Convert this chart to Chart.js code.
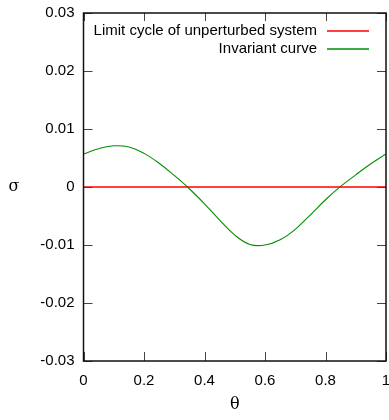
<!DOCTYPE html>
<html>
<head>
<meta charset="utf-8">
<script src="https://cdn.jsdelivr.net/npm/chart.js@4/dist/chart.umd.min.js"></script>
<style>
  html, body { margin: 0; padding: 0; background: #fff; }
  #wrap { width: 389px; height: 420px; }
</style>
</head>
<body>
<div id="wrap"><canvas id="chart" width="389" height="420"></canvas></div>
<script>
// data
const limitTheta = [0, 1];
const limitSigma = [0, 0];

const curveTheta = [0, 0.05, 0.1, 0.15, 0.2, 0.25, 0.3, 0.35, 0.4, 0.45, 0.5,
  0.55, 0.6, 0.65, 0.7, 0.75, 0.8, 0.85, 0.9, 0.95, 1];
const curveSigma = [0.0057, 0.0066, 0.0071, 0.0069, 0.0058, 0.0041, 0.0020, -0.0003,
  -0.0029, -0.0057, -0.0083, -0.0099, -0.0100, -0.0091, -0.0073, -0.0048,
  -0.0022, 0.0001, 0.0021, 0.0040, 0.0057];

const xTicks = [0, 0.2, 0.4, 0.6, 0.8, 1];
const yTicks = [-0.03, -0.02, -0.01, 0, 0.01, 0.02, 0.03];

const labels = ['Limit cycle of unperturbed system', 'Invariant curve'];
const colors = ['#ff0000', '#008f00'];
const xTitle = 'θ';
const yTitle = 'σ';

const FONT = 'Liberation Sans, Arial, sans-serif';

function toPoints(xs, ys) {
  return xs.map((x, i) => ({ x: x, y: ys[i] }));
}

// cadre + petites graduations vers l'intérieur (style gnuplot)
const framePlugin = {
  id: 'frame',
  afterDatasetsDraw(chart) {
    const { ctx, chartArea: a, scales } = chart;
    ctx.save();
    ctx.strokeStyle = '#444';
    ctx.lineWidth = 1;
    scales.x.ticks.forEach(t => {
      const px = Math.round(scales.x.getPixelForValue(t.value)) + 0.5;
      ctx.beginPath();
      ctx.moveTo(px, a.bottom); ctx.lineTo(px, a.bottom - 9);
      ctx.moveTo(px, a.top); ctx.lineTo(px, a.top + 8);
      ctx.stroke();
    });
    scales.y.ticks.forEach(t => {
      const py = Math.round(scales.y.getPixelForValue(t.value)) + 0.5;
      ctx.beginPath();
      ctx.moveTo(a.left, py); ctx.lineTo(a.left + 9, py);
      ctx.moveTo(a.right, py); ctx.lineTo(a.right - 9, py);
      ctx.stroke();
    });
    ctx.strokeStyle = '#111';
    ctx.lineWidth = 1.5;
    ctx.strokeRect(a.left, a.top, a.right - a.left, a.bottom - a.top);

    // légende : texte à droite, échantillon de ligne après
    ctx.font = '15px ' + FONT;
    ctx.textAlign = 'right';
    ctx.textBaseline = 'middle';
    labels.forEach((lab, i) => {
      const y = Math.round(a.top + 18 + i * 18);
      ctx.fillStyle = '#000';
      ctx.fillText(lab, a.right - 69, y);
      ctx.strokeStyle = colors[i];
      ctx.lineWidth = 1.5;
      ctx.beginPath();
      ctx.moveTo(a.right - 59, y);
      ctx.lineTo(a.right - 17, y);
      ctx.stroke();
    });

    // titres des axes
    ctx.fillStyle = '#000';
    ctx.font = '16px DejaVu Serif, serif';
    ctx.textAlign = 'center';
    ctx.fillText(xTitle, (a.left + a.right) / 2, 405);
    ctx.fillText(yTitle, 14, (a.top + a.bottom) / 2);
    ctx.restore();
  }
};

function initChart() {
  const ctx = document.getElementById('chart').getContext('2d');
  return new Chart(ctx, {
    type: 'line',
    data: {
      datasets: [
        {
          label: labels[0],
          data: toPoints(limitTheta, limitSigma),
          borderColor: colors[0],
          borderWidth: 1.6,
          pointRadius: 0,
          fill: false
        },
        {
          label: labels[1],
          data: toPoints(curveTheta, curveSigma),
          borderColor: colors[1],
          borderWidth: 1.1,
          pointRadius: 0,
          fill: false,
          tension: 0.4
        }
      ]
    },
    options: {
      responsive: false,
      animation: false,
      parsing: false,
      layout: { padding: { top: 13, right: 3, left: 0, bottom: 0 } },
      scales: {
        x: {
          type: 'linear',
          min: 0,
          max: 1,
          afterBuildTicks: s => { s.ticks = xTicks.map(v => ({ value: v })); },
          afterFit: s => { s.height = 59; s.paddingLeft = 0; s.paddingRight = 0; },
          grid: { display: false, drawTicks: false },
          border: { display: false },
          ticks: {
            padding: 11,
            maxRotation: 0,
            color: '#000',
            font: { family: FONT, size: 15 },
            callback: v => String(Number(v.toFixed(2)))
          }
        },
        y: {
          type: 'linear',
          min: -0.03,
          max: 0.03,
          afterBuildTicks: s => { s.ticks = yTicks.map(v => ({ value: v })); },
          afterFit: s => { s.width = 83.5; s.paddingTop = 0; s.paddingBottom = 0; },
          grid: { display: false, drawTicks: false },
          border: { display: false },
          ticks: {
            padding: 9,
            color: '#000',
            font: { family: FONT, size: 15 },
            callback: v => String(Number(v.toFixed(2)))
          }
        }
      },
      plugins: {
        legend: { display: false },
        tooltip: { enabled: false }
      }
    },
    plugins: [framePlugin]
  });
}

initChart();
</script>
</body>
</html>
